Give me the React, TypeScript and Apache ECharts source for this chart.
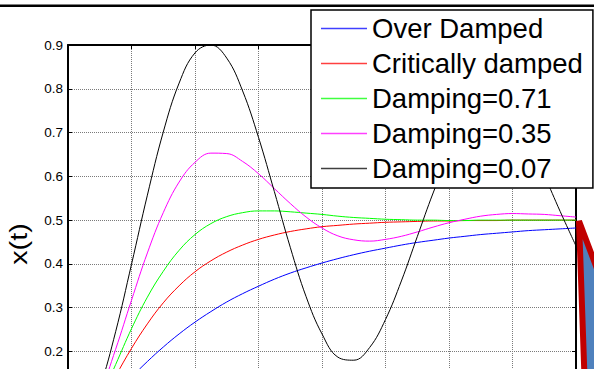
import React, { useEffect, useRef } from "react";
import * as echarts from "echarts";

const FONT = '"Liberation Sans", Arial, Helvetica, sans-serif';

// time samples (x axis, 0..8)
const TIME = [0, 0.25, 0.5, 0.75, 1, 1.25, 1.5, 1.75, 2, 2.25, 2.5, 2.75, 3, 3.25, 3.5, 3.75, 4, 4.25, 4.5, 4.75, 5, 5.25, 5.5, 5.75, 6, 6.25, 6.5, 6.75, 7, 7.25, 7.5, 7.75, 8];

const OVER_DAMPED = [0, 0.021, 0.06, 0.101, 0.141, 0.177, 0.21, 0.24, 0.267, 0.291, 0.313, 0.332, 0.349, 0.365, 0.379, 0.391, 0.402, 0.412, 0.421, 0.429, 0.436, 0.443, 0.449, 0.454, 0.459, 0.463, 0.467, 0.47, 0.473, 0.476, 0.478, 0.48, 0.482];
const CRITICALLY_DAMPED = [0, 0.025, 0.08, 0.144, 0.207, 0.263, 0.311, 0.35, 0.382, 0.407, 0.427, 0.443, 0.456, 0.466, 0.474, 0.48, 0.485, 0.488, 0.491, 0.493, 0.495, 0.496, 0.497, 0.498, 0.498, 0.499, 0.499, 0.499, 0.5, 0.5, 0.5, 0.5, 0.5];
const DAMPING_071 = [0, 0.027, 0.09, 0.17, 0.252, 0.324, 0.383, 0.431, 0.467, 0.492, 0.508, 0.517, 0.521, 0.521, 0.519, 0.516, 0.513, 0.509, 0.506, 0.504, 0.502, 0.501, 0.5, 0.5, 0.499, 0.499, 0.5, 0.5, 0.5, 0.5, 0.5, 0.5, 0.5];
const DAMPING_035 = [0, 0.029, 0.103, 0.205, 0.317, 0.425, 0.517, 0.587, 0.632, 0.653, 0.652, 0.634, 0.606, 0.572, 0.538, 0.507, 0.482, 0.464, 0.455, 0.452, 0.456, 0.463, 0.473, 0.484, 0.494, 0.502, 0.509, 0.513, 0.515, 0.514, 0.513, 0.51, 0.507];
const DAMPING_007 = [0, 0.031, 0.117, 0.245, 0.399, 0.557, 0.701, 0.813, 0.882, 0.9, 0.87, 0.795, 0.689, 0.565, 0.438, 0.325, 0.24, 0.187, 0.18, 0.209, 0.273, 0.361, 0.462, 0.562, 0.65, 0.716, 0.752, 0.756, 0.728, 0.675, 0.602, 0.52, 0.441];

const SERIES_NAMES = ["Over Damped", "Critically damped", "Damping=0.71", "Damping=0.35", "Damping=0.07"];
const SERIES_COLORS = ["#0000ff", "#ff0000", "#00ff00", "#ff00ff", "#000000"];
const SERIES_VALUES = [OVER_DAMPED, CRITICALLY_DAMPED, DAMPING_071, DAMPING_035, DAMPING_007];

// tick labels visible in the picture (0.2 .. 0.9); lower ticks fall below the cut edge
const Y_TICK_LABELS: Record<number, string> = { 2: "0.2", 3: "0.3", 4: "0.4", 5: "0.5", 6: "0.6", 7: "0.7", 8: "0.8", 9: "0.9" };
const Y_LABEL = "x(t)";

export default function App() {
  const ref = useRef<HTMLDivElement>(null);

  useEffect(() => {
    if (!ref.current) return;
    const chart = echarts.init(ref.current, null, { renderer: "svg" });

    const gridLine = { show: true, lineStyle: { color: "#7a7a7a", type: "dotted", width: 1 } };
    const boxLine = { show: true, onZero: false, lineStyle: { color: "#000", width: 2 } };
    const tick = { show: true, inside: true, length: 4, lineStyle: { color: "#000", width: 1 } };

    chart.setOption({
      animation: false,
      backgroundColor: "#fff",
      grid: { left: 68, top: 45, width: 508, height: 394, containLabel: false, outerBoundsMode: "none" },
      xAxis: [
        { type: "value", min: 0, max: 8, interval: 1, position: "bottom", axisLine: boxLine, axisTick: tick, axisLabel: { show: false }, splitLine: gridLine },
        { type: "value", min: 0, max: 8, interval: 1, position: "top", axisLine: boxLine, axisTick: tick, axisLabel: { show: false }, splitLine: { show: false } },
      ],
      yAxis: [
        {
          type: "value", min: 0, max: 0.9, interval: 0.1, position: "left",
          axisLine: boxLine, axisTick: tick, splitLine: gridLine,
          axisLabel: {
            show: true, color: "#000", fontSize: 13.5, fontFamily: FONT, margin: 5,
            formatter: (v: number) => Y_TICK_LABELS[Math.round(v * 10)] ?? "",
          },
        },
        { type: "value", min: 0, max: 0.9, interval: 0.1, position: "right", axisLine: boxLine, axisTick: tick, axisLabel: { show: false }, splitLine: { show: false } },
      ],
      legend: {
        orient: "vertical",
        left: 311,
        top: 10,
        itemWidth: 46,
        itemHeight: 1.5,
        itemGap: 0,
        padding: [1, 10, 2, 10],
        backgroundColor: "#fff",
        borderColor: "#000",
        borderWidth: 1.5,
        borderRadius: 0,
        selectedMode: false,
        textStyle: { fontSize: 27.5, color: "#000", fontFamily: FONT, lineHeight: 35 },
        data: SERIES_NAMES.map((name, k) => ({
          name,
          icon: "rect",
          itemStyle: { color: SERIES_COLORS[k], borderWidth: 0, opacity: 0.75 },
        })),
      },
      series: SERIES_NAMES.map((name, k) => ({
        name,
        type: "line",
        xAxisIndex: 0,
        yAxisIndex: 0,
        symbol: "none",
        smooth: 0.4,
        data: TIME.map((t, i) => [t, SERIES_VALUES[k][i]]),
        lineStyle: { color: SERIES_COLORS[k], width: 1 },
        itemStyle: { color: SERIES_COLORS[k] },
        emphasis: { disabled: true },
      })),
      graphic: [
        { type: "rect", z: 10, shape: { x: 0, y: 4.5, width: 594, height: 2.5 }, style: { fill: "#000" } },
        {
          type: "polygon", z: 10,
          shape: { points: [[579, 221], [630, 356], [630, 420], [586, 420]] },
          style: { fill: "#4f81bd", stroke: "#c00000", lineWidth: 6, lineJoin: "miter" },
        },
        {
          type: "text", z: 10, x: 19, y: 244, rotation: Math.PI / 2, scaleX: 1.2,
          style: { text: Y_LABEL, fontSize: 24, fontFamily: FONT, fill: "#000", align: "center", verticalAlign: "middle" },
        },
      ],
    });

    return () => chart.dispose();
  }, []);

  return <div ref={ref} style={{ position: "fixed", left: 0, top: 0, width: 594, height: 369, background: "#fff" }} />;
}
